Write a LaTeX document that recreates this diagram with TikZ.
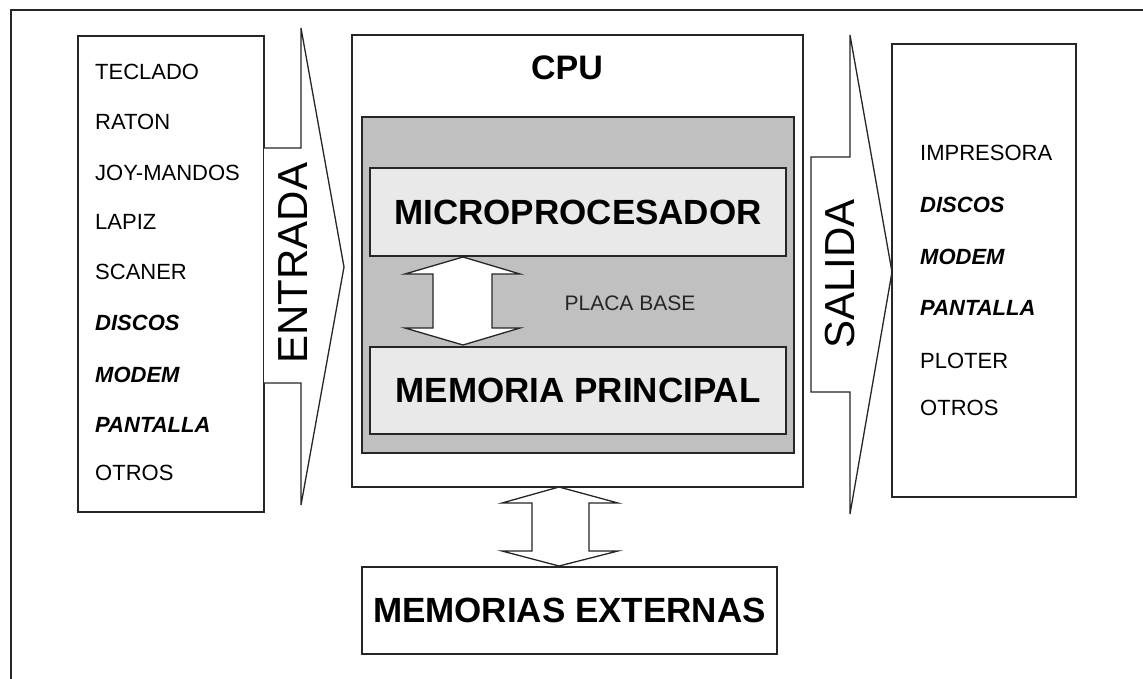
\documentclass[tikz,border=0pt]{standalone}
\usepackage{fontspec}
\setmainfont{Liberation Sans}
\definecolor{placa}{HTML}{C0C0C0}
\definecolor{lite}{HTML}{E9E9E9}
\definecolor{ink}{HTML}{262626}
\begin{document}
\begin{tikzpicture}[x=1pt,y=-1pt,
  frame/.style={draw=ink,line width=1.8pt},
  thinline/.style={draw=ink,line width=1.3pt,line join=miter},
  box/.style={frame,inner sep=0pt,minimum width=#1},
  item/.style={anchor=west,inner sep=0pt,font=\fontsize{22}{22}\selectfont},
  bitem/.style={anchor=west,inner sep=0pt,font=\fontsize{22}{22}\selectfont\bfseries\itshape},
  big/.style={inner sep=0pt,font=\fontsize{35}{35}\selectfont\bfseries},
  side/.style={inner sep=0pt,rotate=90,font=\fontsize{42}{42}\selectfont}
]
\useasboundingbox (0,0) rectangle (1143,679);
\fill[white] (0,0) rectangle (1143,679);
% outer frame (top and left only)
\draw[draw=ink,line width=1.1pt] (11,679) -- (11,10) -- (1143,10);

% input box
\node[box=186pt,minimum height=476pt] (inbox) at (171,274) {};
\node[item]  (i1) at (95,72)  {TECLADO};
\node[item]  (i2) at (95,122) {RATON};
\node[item]  (i3) at (95,173) {JOY-MANDOS};
\node[item]  (i4) at (95,222) {LAPIZ};
\node[item]  (i5) at (95,272) {SCANER};
\node[bitem] (i6) at (95,323) {DISCOS};
\node[bitem] (i7) at (95,375) {MODEM};
\node[bitem] (i8) at (95,425) {PANTALLA};
\node[item]  (i9) at (95,473) {OTROS};

% ENTRADA arrow
\draw[thinline,fill=white] (264,148) -- (301,148) -- (301,28) -- (344,267) -- (301,505) -- (301,383) -- (264,383);
\node[side] (entrada) at (293,263) {ENTRADA};

% CPU
\node[box=451pt,minimum height=452pt] (cpu) at (577.5,261) {};
\node[inner sep=0pt,font=\fontsize{34}{34}\selectfont\bfseries] (cpulbl) at (567,68) {CPU};
\node[box=432pt,minimum height=336pt,fill=placa] (placa) at (578,285) {};
\node[box=416pt,minimum height=88pt,fill=lite,big] (micro) at (578,212) {MICROPROCESADOR};
\node[box=416pt,minimum height=87pt,fill=lite,big] (mem) at (578,390.5) {MEMORIA PRINCIPAL};
\node[inner sep=0pt,font=\fontsize{21}{21}\selectfont,text=ink] (placalbl) at (630,303) {PLACA BASE};
% internal double arrow
\draw[thinline,fill=white] (463,257) -- (520,274) -- (492,274) -- (492,328) -- (520,328) -- (463,345)
  -- (405,328) -- (433,328) -- (433,274) -- (405,274) -- cycle;

% SALIDA arrow
\draw[thinline,fill=white] (811,157) -- (850,157) -- (850,35) -- (892,272) -- (850,514) -- (850,392) -- (811,392) -- cycle;
\node[side] (salida) at (840,274) {SALIDA};

% output box
\node[box=184pt,minimum height=453pt] (outbox) at (984,270.5) {};
\node[item]  (o1) at (920,153) {IMPRESORA};
\node[bitem] (o2) at (920,205) {DISCOS};
\node[bitem] (o3) at (920,257) {MODEM};
\node[bitem] (o4) at (920,308) {PANTALLA};
\node[item]  (o5) at (920,361) {PLOTER};
\node[item]  (o6) at (920,408) {OTROS};

% external memories
\node[box=415pt,minimum height=87pt,big] (ext) at (569.5,610.5) {MEMORIAS EXTERNAS};
\draw[thinline,fill=white] (559,487) -- (618,503) -- (589,503) -- (589,551) -- (618,551) -- (559,566)
  -- (502,551) -- (532,551) -- (532,503) -- (502,503) -- cycle;
\end{tikzpicture}
\end{document}
